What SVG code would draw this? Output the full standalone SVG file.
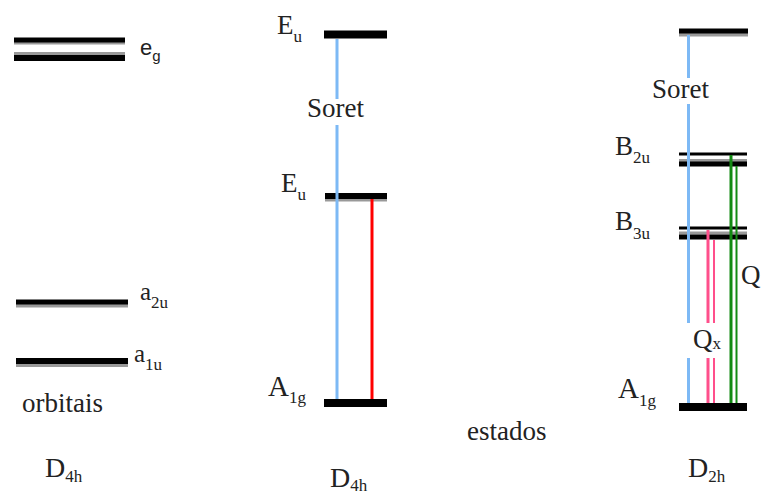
<svg xmlns="http://www.w3.org/2000/svg" width="761" height="495" viewBox="0 0 761 495">
<style>
svg g text.sf, svg g text.sf tspan{font-family:"Liberation Serif",serif !important}
svg g text.ss, svg g text.ss tspan{font-family:"Liberation Sans",sans-serif !important}
</style>
<rect width="761" height="495" fill="#fff"/>
<!-- left column: orbitals -->
<g id="eg">
  <line stroke="#999" x1="14" y1="42" x2="125" y2="42" stroke-width="5"/>
  <line stroke="#000" x1="14" y1="40" x2="125" y2="40" stroke-width="5"/>
  <line stroke="#999" x1="14" y1="54" x2="125" y2="54" stroke-width="4"/>
  <line stroke="#000" x1="14" y1="58" x2="125" y2="58" stroke-width="6"/>
  <text class="ss" font-family="Liberation Sans" font-size="22" fill="#222" x="140" y="55">e<tspan dy="6" font-size="15">g</tspan></text>
</g>
<g id="a2u">
  <line stroke="#999" x1="16" y1="305" x2="128" y2="305" stroke-width="5"/>
  <line stroke="#000" x1="16" y1="302" x2="128" y2="302" stroke-width="5"/>
  <text class="sf" font-family="Liberation Serif" font-size="25" fill="#222" x="140" y="300">a<tspan dy="8" font-size="17">2u</tspan></text>
</g>
<g id="a1u">
  <line stroke="#999" x1="16" y1="364" x2="128" y2="364" stroke-width="6"/>
  <line stroke="#000" x1="16" y1="361" x2="128" y2="361" stroke-width="6"/>
  <text class="sf" font-family="Liberation Serif" font-size="25" fill="#222" x="134" y="362">a<tspan dy="8" font-size="17">1u</tspan></text>
</g>
<g id="orbitais"><text class="sf" font-family="Liberation Serif" font-size="27" fill="#222" x="22" y="412">orbitais</text></g>
<g id="d4h-left"><text class="sf" font-family="Liberation Serif" font-size="28" fill="#222" x="45" y="477">D<tspan dy="5" font-size="17">4h</tspan></text></g>

<!-- middle column: D4h states -->
<g id="Eu-top">
  <line stroke="#000" x1="324" y1="34.5" x2="387" y2="34.5" stroke-width="8"/>
  <text class="sf" font-family="Liberation Serif" font-size="27" fill="#222" x="277" y="34">E<tspan dy="8" font-size="17">u</tspan></text>
</g>
<g id="Soret-mid"><text class="sf" font-family="Liberation Serif" font-size="27" fill="#222" x="307" y="117">Soret</text></g>
<g id="Eu-mid">
  <line stroke="#999" x1="325" y1="198" x2="387" y2="198" stroke-width="7"/>
  <line stroke="#000" x1="325" y1="196" x2="387" y2="196" stroke-width="6"/>
  <text class="sf" font-family="Liberation Serif" font-size="27" fill="#222" x="281" y="192">E<tspan dy="8" font-size="17">u</tspan></text>
</g>
<g id="A1g-mid">
  <line stroke="#000" x1="324" y1="403" x2="387" y2="403" stroke-width="8"/>
  <text class="sf" font-family="Liberation Serif" font-size="29" fill="#222" x="268" y="396">A<tspan dy="7" font-size="17">1g</tspan></text>
</g>
<g id="d4h-mid"><text class="sf" font-family="Liberation Serif" font-size="28" fill="#222" x="330" y="487">D<tspan dy="4" font-size="17">4h</tspan></text></g>
<g id="estados"><text class="sf" font-family="Liberation Serif" font-size="27" fill="#222" x="467" y="440">estados</text></g>

<!-- right column: D2h states -->
<g id="top-right">
  <line stroke="#999" x1="679" y1="34" x2="748" y2="34" stroke-width="5"/>
  <line stroke="#000" x1="679" y1="31" x2="748" y2="31" stroke-width="5"/>
</g>
<g id="Soret-right"><text class="sf" font-family="Liberation Serif" font-size="27" fill="#222" x="652" y="98">Soret</text></g>
<g id="B2u">
  <line stroke="#000" x1="679" y1="154" x2="747" y2="154" stroke-width="3"/>
  <line stroke="#999" x1="679" y1="160.5" x2="747" y2="160.5" stroke-width="3"/>
  <line stroke="#000" x1="679" y1="164" x2="747" y2="164" stroke-width="5"/>
  <text class="sf" font-family="Liberation Serif" font-size="27" fill="#222" x="615" y="155">B<tspan dy="8" font-size="17">2u</tspan></text>
</g>
<g id="B3u">
  <line stroke="#000" x1="679" y1="228" x2="747" y2="228" stroke-width="3"/>
  <line stroke="#999" x1="679" y1="233" x2="747" y2="233" stroke-width="3"/>
  <line stroke="#000" x1="679" y1="237" x2="747" y2="237" stroke-width="5"/>
  <text class="sf" font-family="Liberation Serif" font-size="27" fill="#222" x="615" y="230">B<tspan dy="9" font-size="17">3u</tspan></text>
</g>
<g id="A1g-right">
  <line stroke="#000" x1="679" y1="407" x2="747" y2="407" stroke-width="8"/>
  <text class="sf" font-family="Liberation Serif" font-size="29" fill="#222" x="618" y="398">A<tspan dy="8" font-size="17">1g</tspan></text>
</g>
<g id="d2h"><text class="sf" font-family="Liberation Serif" font-size="28" fill="#222" x="688" y="477">D<tspan dy="5" font-size="17">2h</tspan></text></g>

<!-- connectors -->
<g id="connectors" fill="none">
  <path stroke="#7db9f5" stroke-width="3" d="M337 39V99M337 125V399"/>
  <path stroke="#ff0000" stroke-width="3" d="M372 199V399"/>
  <path stroke="#7db9f5" stroke-width="3" d="M688.5 35V78M688.5 104V323M688.5 358V403"/>
  <path stroke="#ff4f8b" stroke-width="3" d="M708 230V323M708 358V403"/>
  <path stroke="#ff4f8b" stroke-width="2" d="M714 240V323M714 358V403"/>
  <path stroke="#138a13" stroke-width="3" d="M731 155V403"/>
  <path stroke="#138a13" stroke-width="2" d="M736.5 166V403"/>
</g>
<g id="Q-label"><text class="sf" font-family="Liberation Serif" font-size="27" fill="#222" x="741" y="284">Q</text></g>
<g id="Qx-label"><text class="sf" font-family="Liberation Serif" font-size="27" fill="#222" x="693" y="348">Q<tspan dy="1" font-size="17">x</tspan></text></g>
</svg>
